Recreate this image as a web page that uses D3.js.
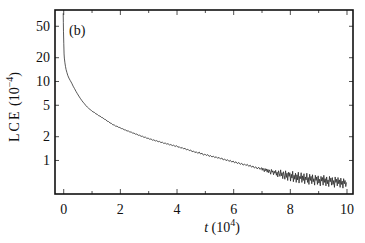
<!DOCTYPE html>
<html>
<head>
<meta charset="utf-8">
<script src="https://cdn.jsdelivr.net/npm/d3@7"></script>
<style>
  body { margin: 0; background: #fff; }
  text { font-family: "Liberation Serif", "DejaVu Serif", serif; fill: #111; }
</style>
</head>
<body>
<svg id="chart" width="365" height="243"></svg>
<script>
// early part of the run, irregular sampling
const headT = [0, 0.005, 0.01, 0.02, 0.03, 0.04, 0.06, 0.08, 0.1, 0.13, 0.16, 0.2,
  0.25, 0.3, 0.35, 0.4, 0.45, 0.5, 0.55, 0.6, 0.65, 0.7, 0.75, 0.8, 0.85, 0.9, 0.95];
const headLCE = [72, 55, 42, 30, 22, 19.5, 17, 15.3, 14, 12.8, 11.8, 10.9,
  10.1, 9.4, 8.6, 8.0, 7.4, 6.9, 6.45, 6.05, 5.7, 5.4, 5.15, 4.88, 4.68, 4.5, 4.35];

// middle of the run, one reading every 0.05 (x 10^4) from t = 1 to t = 6.95
const midStart = 1, midStep = 0.05;
const midLCE = [
  4.22, 4.06, 4.01, 3.84, 3.79, 3.63, 3.60, 3.46, 3.42, 3.28,
  3.24, 3.10, 3.07, 2.94, 2.91, 2.79, 2.78, 2.68, 2.68, 2.59,
  2.58, 2.50, 2.49, 2.41, 2.40, 2.33, 2.33, 2.26, 2.26, 2.19,
  2.19, 2.12, 2.13, 2.05, 2.06, 1.99, 2.00, 1.93, 1.95, 1.88,
  1.89, 1.83, 1.85, 1.78, 1.80, 1.74, 1.76, 1.70, 1.72, 1.66,
  1.68, 1.62, 1.64, 1.59, 1.61, 1.55, 1.57, 1.52, 1.54, 1.48,
  1.52, 1.45, 1.47, 1.41, 1.44, 1.38, 1.41, 1.34, 1.37, 1.31,
  1.34, 1.27, 1.30, 1.24, 1.27, 1.21, 1.26, 1.19, 1.22, 1.15,
  1.19, 1.14, 1.17, 1.11, 1.14, 1.09, 1.12, 1.07, 1.10, 1.05,
  1.08, 1.03, 1.06, 1.00, 1.03, 0.98, 1.01, 0.96, 0.99, 0.94,
  0.97, 0.92, 0.95, 0.90, 0.93, 0.88, 0.91, 0.86, 0.89, 0.85,
  0.88, 0.83, 0.86, 0.81, 0.84, 0.79, 0.82, 0.77, 0.81, 0.76
];

// noisy end of the run, one reading every 0.025 from t = 7 to t = 10
const endStart = 7, endStep = 0.025;
const endLCE = [
  0.80, 0.74, 0.79, 0.75, 0.71, 0.78, 0.73, 0.77, 0.70, 0.76,
  0.69, 0.75, 0.71, 0.66, 0.76, 0.70, 0.73, 0.65, 0.72, 0.68,
  0.74, 0.64, 0.70, 0.61, 0.73, 0.67, 0.62, 0.75, 0.63, 0.69,
  0.58, 0.71, 0.64, 0.57, 0.73, 0.60, 0.68, 0.55, 0.70, 0.62,
  0.69, 0.54, 0.66, 0.59, 0.72, 0.53, 0.64, 0.57, 0.68, 0.52,
  0.65, 0.56, 0.70, 0.51, 0.62, 0.58, 0.69, 0.52, 0.63, 0.55,
  0.67, 0.50, 0.61, 0.56, 0.68, 0.52, 0.60, 0.49, 0.66, 0.55,
  0.62, 0.50, 0.65, 0.53, 0.58, 0.48, 0.64, 0.55, 0.61, 0.49,
  0.63, 0.51, 0.57, 0.47, 0.62, 0.54, 0.60, 0.48, 0.64, 0.52,
  0.58, 0.47, 0.61, 0.50, 0.56, 0.46, 0.62, 0.53, 0.59, 0.48,
  0.60, 0.49, 0.55, 0.45, 0.61, 0.52, 0.57, 0.47, 0.60, 0.50,
  0.56, 0.45, 0.59, 0.49, 0.54, 0.44, 0.58, 0.50, 0.55, 0.46,
  0.52
];

const yTicks = [1, 2, 5, 10, 20, 50];
const xMajor = [0, 2, 4, 6, 8, 10];
const xMinor = [1, 3, 5, 7, 9];

const series = headT.map((t, i) => ({t, v: headLCE[i]}))
  .concat(midLCE.map((v, i) => ({t: midStart + i * midStep, v})))
  .concat(endLCE.map((v, i) => ({t: endStart + i * endStep, v})));

const svg = d3.select('#chart');
const box = {left: 55, right: 353, top: 10, bottom: 194};

const x = d3.scaleLinear().domain([-0.29, 10.23]).range([box.left, box.right]);
const y = d3.scaleLog().domain([0.371, 79.2]).range([box.bottom, box.top]);

svg.append('clipPath').attr('id', 'clip')
  .append('rect')
  .attr('x', box.left).attr('y', box.top)
  .attr('width', box.right - box.left).attr('height', box.bottom - box.top);

// curve
const line = d3.line().x(d => x(d.t)).y(d => y(d.v));
svg.append('path')
  .datum(series)
  .attr('clip-path', 'url(#clip)')
  .attr('d', line)
  .attr('fill', 'none')
  .attr('stroke', '#222')
  .attr('stroke-width', 0.75);

// axes, ticks pointing inward
const fmt = d3.format('d');
const axBottom = svg.append('g').attr('transform', `translate(0,${box.bottom})`)
  .call(d3.axisBottom(x).tickValues(xMajor).tickFormat(fmt).tickSizeInner(-5).tickSizeOuter(0).tickPadding(10));
const axBottomMinor = svg.append('g').attr('transform', `translate(0,${box.bottom})`)
  .call(d3.axisBottom(x).tickValues(xMinor).tickFormat('').tickSizeInner(-3).tickSizeOuter(0));
const axTop = svg.append('g').attr('transform', `translate(0,${box.top})`)
  .call(d3.axisTop(x).tickValues(xMajor).tickFormat('').tickSizeInner(-5).tickSizeOuter(0));
const axTopMinor = svg.append('g').attr('transform', `translate(0,${box.top})`)
  .call(d3.axisTop(x).tickValues(xMinor).tickFormat('').tickSizeInner(-3).tickSizeOuter(0));
const axLeft = svg.append('g').attr('transform', `translate(${box.left},0)`)
  .call(d3.axisLeft(y).tickValues(yTicks).tickFormat(fmt).tickSizeInner(-4).tickSizeOuter(0).tickPadding(5));
const axRight = svg.append('g').attr('transform', `translate(${box.right},0)`)
  .call(d3.axisRight(y).tickValues(yTicks).tickFormat('').tickSizeInner(-4).tickSizeOuter(0));

[axBottom, axBottomMinor, axTop, axTopMinor, axLeft, axRight].forEach(g => {
  g.select('.domain').remove();
  g.selectAll('line').attr('stroke', '#222').attr('stroke-width', 0.8);
  g.selectAll('text')
    .style('font-family', '"Liberation Serif", serif')
    .style('font-size', '14px')
    .attr('fill', '#111');
});

// frame
svg.append('rect')
  .attr('x', box.left).attr('y', box.top)
  .attr('width', box.right - box.left).attr('height', box.bottom - box.top)
  .attr('fill', 'none')
  .attr('stroke', '#111')
  .attr('stroke-width', 1.6);

// panel tag
svg.append('text')
  .attr('x', 69).attr('y', 35)
  .style('font-size', '14px')
  .text('(b)');

// x label
const xl = svg.append('text')
  .attr('x', 222).attr('y', 232)
  .attr('text-anchor', 'middle')
  .style('font-size', '14px');
xl.append('tspan').style('font-style', 'italic').text('t');
xl.append('tspan').text(' (10');
xl.append('tspan').attr('dy', -6).style('font-size', '10px').text('4');
xl.append('tspan').attr('dy', 6).text(')');

// y label
const yl = svg.append('text')
  .attr('transform', 'translate(19,107) rotate(-90)')
  .attr('text-anchor', 'middle')
  .style('font-size', '14px');
yl.append('tspan').style('letter-spacing', '2px').text('LCE');
yl.append('tspan').text(' (10');
yl.append('tspan').attr('dy', -6).style('font-size', '10px').text('−4');
yl.append('tspan').attr('dy', 6).text(')');
</script>
</body>
</html>
